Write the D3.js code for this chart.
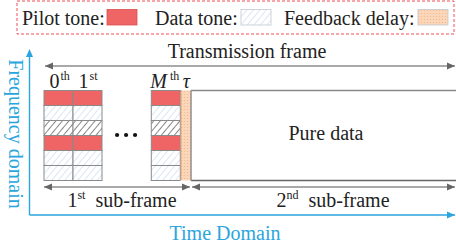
<!DOCTYPE html>
<html>
<head>
<meta charset="utf-8">
<script src="https://cdn.jsdelivr.net/npm/d3@7"></script>
<style>
  body { margin: 0; background: #fff; }
  text { font-family: "Liberation Serif", "DejaVu Serif", serif; }
</style>
</head>
<body>
<div id="chart"></div>
<script>
var width = 456;
var height = 251;

// legend entries
var legendNames = ["Pilot tone:", "Data tone:", "Feedback delay:"];
var legendKinds = ["pilot", "data", "delay"];

// resource grid of the 1st sub-frame
var colNames = ["0", "1", "M"];
var colSups = ["th", "st", "th"];
var colSlots = [0, 1, 3.7]; // slot position along time (column widths)
var rowKinds = ["pilot", "data", "dark", "pilot", "data", "data"];

// time axis split (in column widths)
var frameStart = 0;
var delayEnd = 5.07;

var colors = { pilot: "#ef6464", hatch: "#a9c9e8", dark: "#222", grid: "#8a8a8a", arrow: "#8c8c8c", head: "#666", blue: "#2aa5de", legend: "#ef4f55" };
var serif = "'Liberation Serif', 'DejaVu Serif', serif";

var x = d3.scaleLinear().domain([0, 1]).range([44, 73]);
var y = d3.scaleBand().domain(d3.range(rowKinds.length)).range([90.5, 180.5]);

var svg = d3.select("#chart").append("svg").attr("width", width).attr("height", height)
  .attr("font-family", serif);
var defs = svg.append("defs");

function hatch(id, color, sw) {
  var p = defs.append("pattern").attr("id", id).attr("patternUnits", "userSpaceOnUse")
    .attr("width", 5).attr("height", 5).attr("patternTransform", "rotate(40)");
  p.append("rect").attr("width", 5).attr("height", 5).attr("fill", "#fff");
  p.append("line").attr("x1", 0).attr("y1", 0).attr("x2", 0).attr("y2", 5)
    .attr("stroke", color).attr("stroke-width", sw);
}
hatch("dataHatch", colors.hatch, 0.9);
hatch("darkHatch", colors.dark, 1.1);

var dp = defs.append("pattern").attr("id", "delayDots").attr("patternUnits", "userSpaceOnUse")
  .attr("width", 3).attr("height", 3);
dp.append("rect").attr("width", 3).attr("height", 3).attr("fill", "#fbd6b8");
dp.append("circle").attr("cx", 1.5).attr("cy", 1.5).attr("r", 0.6).attr("fill", "#f2b58c");

var fills = { pilot: colors.pilot, data: "url(#dataHatch)", dark: "url(#darkHatch)", delay: "url(#delayDots)" };

function label(px, py, str) {
  return svg.append("text").attr("x", px).attr("y", py).attr("font-size", 20)
    .attr("font-family", serif).attr("fill", "#222").text(str);
}

function arrowHead(g, px, py, dir, color) {
  // dir: 1 points right, -1 points left
  g.append("path")
    .attr("d", "M" + px + "," + py + "L" + (px - dir * 8) + "," + (py - 3.5) + "L" + (px - dir * 8) + "," + (py + 3.5) + "Z")
    .attr("fill", color);
}

function hArrow(x1, x2, yy, color, head, both) {
  var g = svg.append("g");
  g.append("line").attr("x1", x1).attr("x2", x2).attr("y1", yy).attr("y2", yy)
    .attr("stroke", color).attr("stroke-width", 1.4);
  arrowHead(g, x2, yy, 1, head);
  if (both) arrowHead(g, x1, yy, -1, head);
}

// legend
var legend = svg.append("g");
legend.append("rect").attr("x", 17).attr("y", 1).attr("width", 437).attr("height", 33)
  .attr("fill", "none").attr("stroke", colors.legend).attr("stroke-width", 1).attr("stroke-dasharray", "3,2");
var legX = [22, 155, 284];
var swX = [107, 241, 418];
legendNames.forEach(function (name, i) {
  label(legX[i], 25, name);
  legend.append("rect").attr("x", swX[i]).attr("y", 9.5).attr("width", 30).attr("height", 15.5)
    .attr("fill", fills[legendKinds[i]]).attr("stroke", legendKinds[i] == "pilot" ? "#d85050" : "#c0c8d0").attr("stroke-width", 0.8);
});

// axes (time / frequency)
svg.append("line").attr("x1", 29.5).attr("x2", 29.5).attr("y1", 56).attr("y2", 215)
  .attr("stroke", colors.blue).attr("stroke-width", 1.4);
svg.append("path").attr("d", "M29.5,49L26,57L33,57Z").attr("fill", colors.blue);
hArrow(29.5, 455, 215, colors.blue, colors.blue, false);
label(0, 0, "Frequency domain").attr("x", null).attr("y", null)
  .attr("transform", "translate(9,134) rotate(90)").attr("text-anchor", "middle").attr("fill", colors.blue);
label(225, 240, "Time Domain").attr("text-anchor", "middle").attr("fill", colors.blue);

// transmission frame
hArrow(x(frameStart) + 1, 455, 66, colors.arrow, colors.head, true);
label(247, 58, "Transmission frame").attr("text-anchor", "middle");

// grid columns
colSlots.forEach(function (s, c) {
  var g = svg.append("g");
  g.selectAll("rect").data(rowKinds).join("rect")
    .attr("x", x(s)).attr("y", function (d, i) { return y(i); })
    .attr("width", x(1) - x(0)).attr("height", y.bandwidth())
    .attr("fill", function (d) { return fills[d]; })
    .attr("stroke", colors.grid).attr("stroke-width", 1);
  var isM = colNames[c] == "M";
  var t = label(x(s) + (isM ? -1 : 5.5), 88, null);
  t.append("tspan").attr("font-style", isM ? "italic" : null).text(colNames[c]);
  t.append("tspan").attr("font-size", 12).attr("dx", isM ? 3 : 1).attr("dy", -8).text(colSups[c]);
});
label(x(4.7) + 2.5, 88, "τ").attr("font-style", "italic");

// ellipsis
svg.append("g").selectAll("circle").data([0, 1, 2]).join("circle")
  .attr("cx", function (d) { return x(2.52) + d * 9; }).attr("cy", 135).attr("r", 2.1).attr("fill", "#111");

// feedback delay strip
svg.append("rect").attr("x", x(4.7)).attr("y", y(0)).attr("width", x(delayEnd) - x(4.7))
  .attr("height", y.range()[1] - y.range()[0]).attr("fill", fills.delay);
svg.append("line").attr("x1", x(4.7) + 0.5).attr("x2", x(4.7) + 0.5).attr("y1", y(0)).attr("y2", y.range()[1])
  .attr("stroke", "#8a5a3a").attr("stroke-width", 1).attr("stroke-dasharray", "1,1");

// pure data box
var pd = svg.append("g");
pd.append("line").attr("x1", x(delayEnd)).attr("x2", width).attr("y1", y(0)).attr("y2", y(0))
  .attr("stroke", colors.grid).attr("stroke-width", 1.4);
pd.append("line").attr("x1", x(delayEnd)).attr("x2", width).attr("y1", y.range()[1]).attr("y2", y.range()[1])
  .attr("stroke", "#666").attr("stroke-width", 1.4);
pd.append("line").attr("x1", x(delayEnd)).attr("x2", x(delayEnd)).attr("y1", y(0)).attr("y2", y.range()[1])
  .attr("stroke", colors.grid).attr("stroke-width", 1.4);
label(326, 140, "Pure data").attr("text-anchor", "middle");

// sub-frame arrows
hArrow(x(frameStart), x(delayEnd) - 1, 187, colors.arrow, colors.head, true);
hArrow(x(delayEnd) + 1, 455, 187, colors.arrow, colors.head, true);
[["1", "st", 122], ["2", "nd", 333]].forEach(function (a) {
  var t = label(a[2], 207, null).attr("text-anchor", "middle");
  t.append("tspan").text(a[0]);
  t.append("tspan").attr("font-size", 12).attr("dy", -8).text(a[1]);
  t.append("tspan").attr("dy", 8).text("\u00a0 sub-frame");
});
</script>
</body>
</html>
